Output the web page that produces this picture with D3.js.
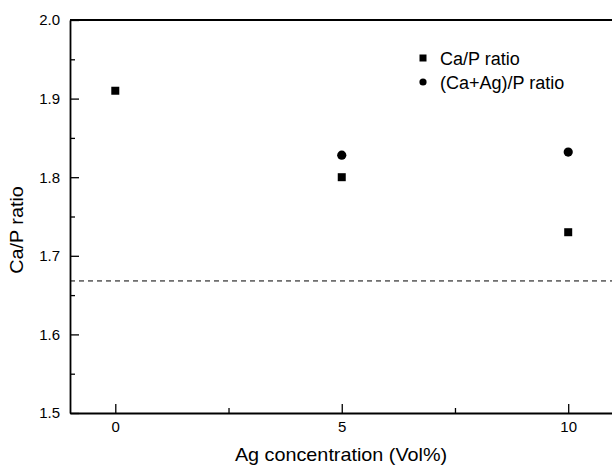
<!DOCTYPE html>
<html>
<head>
<meta charset="utf-8">
<script src="https://cdn.jsdelivr.net/npm/d3@7"></script>
<style>
    body { margin: 0; background: #fff; }
    svg text { font-family: 'Liberation Sans', Arial, sans-serif; fill: #000; }
</style>
</head>
<body>
<div id="graph"></div>
<script>
    // The data...
    var agConc      = [ 0, 5, 10 ];
    var caPRatio    = [ 1.91, 1.80, 1.73 ];
    var caAgPRatio  = [ null, 1.828, 1.832 ];
    var stoichRatio = 1.668;   // dashed reference line

    var xMajorTicks = [ 0, 5, 10 ];
    var xMinorTicks = [ 2.5, 7.5 ];
    var yMajorTicks = [ 1.5, 1.6, 1.7, 1.8, 1.9, 2.0 ];
    var yMinorTicks = [ 1.55, 1.65, 1.75, 1.85, 1.95 ];

    var legendLabels = [ 'Ca/P ratio', '(Ca+Ag)/P ratio' ];

    var width  = 612;
    var height = 467;

    var svg = d3.select ('#graph').append ('svg')
                .attr ('width', width)
                .attr ('height', height);

    var xScale = d3.scaleLinear ().domain ([ -1, 11 ]).range ([ 70, 613.5 ]);
    var yScale = d3.scaleLinear ().domain ([ 1.5, 2.0 ]).range ([ 413, 20 ]);

    // x axis, ticks pointing in
    var xAxisG = svg.append ('g')
        .attr ('transform', 'translate(0,' + yScale(1.5) + ')')
        .call (d3.axisBottom (xScale).tickValues (xMajorTicks).tickSizeInner (-9).tickSizeOuter (0).tickPadding (8));
    svg.append ('g')
        .attr ('transform', 'translate(0,' + yScale(1.5) + ')')
        .call (d3.axisBottom (xScale).tickValues (xMinorTicks).tickSizeInner (-5).tickSizeOuter (0).tickFormat (''))
        .select ('.domain').remove ();

    // y axis
    var yAxisG = svg.append ('g')
        .attr ('transform', 'translate(' + xScale(-1) + ',0)')
        .call (d3.axisLeft (yScale).tickValues (yMajorTicks).tickSizeInner (-9).tickSizeOuter (0).tickPadding (10)
                 .tickFormat (d3.format ('.1f')));
    svg.append ('g')
        .attr ('transform', 'translate(' + xScale(-1) + ',0)')
        .call (d3.axisLeft (yScale).tickValues (yMinorTicks).tickSizeInner (-5).tickSizeOuter (0).tickFormat (''))
        .select ('.domain').remove ();

    svg.selectAll ('.domain').attr ('stroke-width', 1.8);
    svg.selectAll ('.tick line').attr ('stroke-width', 1.3);
    svg.selectAll ('.tick text').attr ('font-size', '15px').attr ('font-family', null);

    // top frame line
    svg.append ('line')
        .attr ('x1', xScale(-1)).attr ('x2', width)
        .attr ('y1', yScale(2.0)).attr ('y2', yScale(2.0))
        .attr ('stroke', '#000').attr ('stroke-width', 1.8);

    // dashed reference line
    svg.append ('line')
        .attr ('x1', xScale(-1)).attr ('x2', width)
        .attr ('y1', yScale(stoichRatio)).attr ('y2', yScale(stoichRatio))
        .attr ('stroke', '#000').attr ('stroke-width', 1)
        .attr ('stroke-dasharray', '5,4');

    // Ca/P squares
    var sq = 8;
    svg.selectAll ('rect.cap')
       .data (caPRatio)
       .enter ().append ('rect')
       .attr ('class', 'cap')
       .attr ('x', function (d, i) { return xScale(agConc[i]) - sq/2; })
       .attr ('y', function (d) { return yScale(d) - sq/2; })
       .attr ('width', sq).attr ('height', sq)
       .attr ('fill', '#000');

    // (Ca+Ag)/P circles
    svg.selectAll ('circle.caag')
       .data (caAgPRatio.map (function (d, i) { return [ agConc[i], d ]; }).filter (function (d) { return d[1] != null; }))
       .enter ().append ('circle')
       .attr ('class', 'caag')
       .attr ('cx', function (d) { return xScale(d[0]); })
       .attr ('cy', function (d) { return yScale(d[1]); })
       .attr ('r', 4.6)
       .attr ('fill', '#000');

    // Legend
    var legend = svg.append ('g').attr ('transform', 'translate(423,58)');
    legend.append ('rect').attr ('x', -3.5).attr ('y', -3.5).attr ('width', 7).attr ('height', 7).attr ('fill', '#000');
    legend.append ('circle').attr ('cx', 0).attr ('cy', 24).attr ('r', 3.6).attr ('fill', '#000');
    legend.selectAll ('text')
          .data (legendLabels)
          .enter ().append ('text')
          .attr ('x', 17)
          .attr ('y', function (d, i) { return i * 24 + 6.5; })
          .attr ('font-size', '18px')
          .text (function (d) { return d; });

    // Axis titles
    svg.append ('text')
       .attr ('transform', 'translate(341,461) scale(1.1,1)')
       .attr ('text-anchor', 'middle')
       .attr ('font-size', '18px')
       .text ('Ag concentration (Vol%)');

    svg.append ('text')
       .attr ('transform', 'translate(23,230) rotate(-90) scale(1.1,1)')
       .attr ('text-anchor', 'middle')
       .attr ('font-size', '18px')
       .text ('Ca/P ratio');
</script>
</body>
</html>
